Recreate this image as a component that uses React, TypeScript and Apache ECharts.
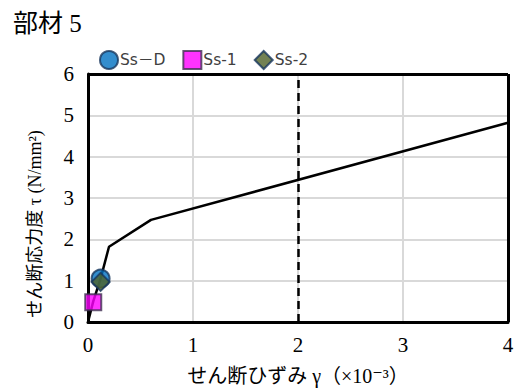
import React, { useEffect, useRef } from "react";
import * as echarts from "echarts";

const curveX = [0, 0.05, 0.12, 0.2, 0.6, 4];
const curveY = [0, 0.5, 1.05, 1.82, 2.47, 4.82];
const seriesNames = ["Ss－D", "Ss-1", "Ss-2"];
const pointX = [0.12, 0.05, 0.12];
const pointY = [1.05, 0.48, 0.97];
const limitX = 2;
const xMax = 4;
const yMax = 6;

const serif = "'Liberation Serif', 'DejaVu Serif', 'Noto Sans CJK JP', serif";
const sans = "'DejaVu Sans', 'Noto Sans CJK JP', sans-serif";

export default function App() {
  const ref = useRef<HTMLDivElement>(null);
  useEffect(() => {
    const chart = echarts.init(ref.current!, null, { renderer: "svg" });
    const symbols = ["circle", "rect", "diamond"];
    const colors = ["#0070C0", "#FF00FF", "#4F6228"];
    const borders = ["#17365D", "#3F3151", "#17365D"];
    const sizes = [18, 16, 18];
    const frame = { show: true, onZero: false, lineStyle: { color: "#000", width: 3 } };
    const split = { show: true, showMinLine: false, showMaxLine: false, lineStyle: { color: "#d9d9d9", width: 2 } };
    const solid = { color: "#000", type: "solid", width: 3 };
    chart.setOption({
      animation: false,
      backgroundColor: "#fff",
      title: {
        text: "部材 5",
        left: 8,
        top: 6,
        textStyle: { fontFamily: serif, fontSize: 25, fontWeight: "normal", color: "#000" },
      },
      legend: {
        left: 94,
        top: 45,
        itemGap: 17,
        itemWidth: 18,
        itemHeight: 18,
        textStyle: { fontFamily: sans, fontSize: 15.5, color: "#404040", padding: [0, 0, 0, -3] },
        data: seriesNames.map((n, i) => ({ name: n, icon: symbols[i] })),
      },
      grid: { left: 88, right: 13, top: 74, bottom: 68 },
      xAxis: {
        type: "value",
        min: 0,
        max: xMax,
        interval: 1,
        name: "せん断ひずみ γ（×10⁻³）",
        nameLocation: "middle",
        nameGap: 44,
        nameTextStyle: { fontFamily: serif, fontSize: 20, color: "#000" },
        axisLine: frame,
        axisTick: { show: false },
        axisLabel: { fontFamily: serif, fontSize: 21, color: "#000", margin: 12 },
        splitLine: split,
      },
      yAxis: {
        type: "value",
        min: 0,
        max: yMax,
        interval: 1,
        name: "せん断応力度 τ (N/mm²)",
        nameLocation: "middle",
        nameGap: 44,
        nameTextStyle: { fontFamily: serif, fontSize: 18, color: "#000", padding: [0, 52, 0, 0] },
        axisLine: frame,
        axisTick: { show: false },
        axisLabel: { fontFamily: serif, fontSize: 21, color: "#000", margin: 14 },
        splitLine: split,
      },
      series: [
        {
          name: "curve",
          type: "line",
          clip: false,
          data: curveX.map((x, i) => [x, curveY[i]]),
          showSymbol: false,
          symbol: "none",
          lineStyle: { color: "#000", width: 2.5 },
          z: 2,
          markLine: {
            silent: true,
            symbol: "none",
            label: { show: false },
            lineStyle: { color: "#000", type: [8, 5], width: 2.5 },
            data: [
              { xAxis: limitX },
              [
                { coord: [xMax, 0], lineStyle: solid },
                { coord: [xMax, yMax] },
              ],
              [
                { coord: [0, yMax], lineStyle: solid },
                { coord: [xMax, yMax] },
              ],
            ],
          },
        },
        ...seriesNames.map((n, i) => ({
          name: n,
          type: "scatter",
          symbol: symbols[i],
          symbolSize: sizes[i],
          data: [[pointX[i], pointY[i]]],
          itemStyle: { color: colors[i], borderColor: borders[i], borderWidth: 2 },
          z: 3 + i,
        })),
      ],
    });
    return () => chart.dispose();
  }, []);
  return <div ref={ref} style={{ width: 521, height: 391, position: "absolute", left: 0, top: 0 }} />;
}
